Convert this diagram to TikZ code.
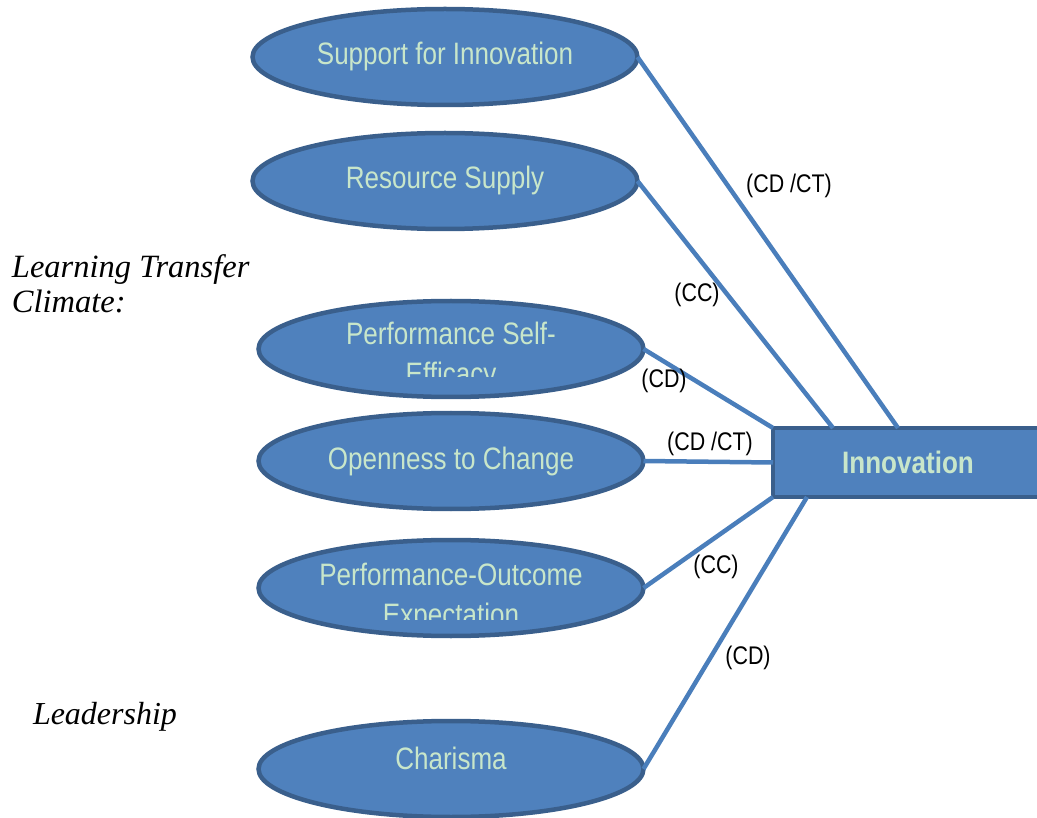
\documentclass[tikz,border=0pt]{standalone}
\usepackage{fontspec}
\setmainfont{Liberation Serif}
\newfontfamily\narrowfont[FakeStretch=0.84]{Liberation Sans}
\usetikzlibrary{shapes.geometric}
\definecolor{BLUE}{HTML}{4F81BD}
\definecolor{BLUE_E}{HTML}{3A5F8C}
\definecolor{LINK}{HTML}{4A7EBB}
\definecolor{PALE}{HTML}{C8E6CA}
\tikzset{
	every node/.style = {inner sep=0pt, outer sep=0pt},
	factor/.style = {ellipse, draw=BLUE_E, fill=BLUE, line width=4.5pt, minimum width=385pt, minimum height=96pt,
		text=PALE, font=\narrowfont\fontsize{31}{40}\selectfont, text height=22pt, text depth=6pt},
	factortext/.style = {anchor=base, text=PALE, font=\narrowfont\fontsize{31}{40}\selectfont},
	outcome/.style = {rectangle, draw=BLUE_E, fill=BLUE, line width=4.5pt, minimum width=270pt, minimum height=69pt,
		text=PALE, font=\narrowfont\bfseries\fontsize{31}{37}\selectfont},
	link/.style = {draw=LINK, line width=4.5pt},
	tag/.style = {font=\narrowfont\fontsize{25.5}{30}\selectfont},
	group/.style = {anchor=base west, font=\itshape\fontsize{32.5}{35}\selectfont}
}
\begin{document}
\begin{tikzpicture}[x=1pt, y=-1pt]
		\useasboundingbox (0,0) rectangle (1037,818);
		% group titles
		\node[group] (climate1) at (12,278) {Learning Transfer};
		\node[group] (climate2) at (12,313) {Climate:};
		\node[group, font=\itshape\fontsize{32}{35}\selectfont] (leader) at (33,724) {Leadership};
		% factors
		\node[factor] (support) at (445,57) {Support for Innovation};
		\node[factor] (resource) at (445,181) {Resource Supply};
		\node[factor] (selfeff) at (451,349) {};
		\node[factortext] (selfeff1) at (451,345) {Performance Self-};
		\node[factor] (openness) at (451,461) {Openness to Change};
		\node[factor] (expect) at (451,588) {};
		\node[factortext] (expect1) at (451,585) {Performance-Outcome};
		\node[factor, text depth=22pt] (charisma) at (451,769) {Charisma};
		% second lines, cut off
		\begin{scope}
		\clip (250,300) rectangle (660,377);
		\node[factortext] (selfeff2) at (451,385) {Efficacy};
		\end{scope}
		\begin{scope}
		\clip (250,540) rectangle (660,619);
		\node[factortext] (expect2) at (451,625) {Expectation};
		\end{scope}
		% outcome
		\node[outcome] (innov) at (908,462.5) {Innovation};
		% links
		\draw[link] (support.east) -- ([xshift=-10pt]innov.north);
		\draw[link] (resource.east) -- ([xshift=-75pt]innov.north);
		\draw[link] (selfeff.east) -- (innov.north west);
		\draw[link] (openness.east) -- (innov.west);
		\draw[link] (expect.east) -- (innov.south west);
		\draw[link] (charisma.east) -- ([xshift=-101pt]innov.south);
		% link labels
		\node[tag] (tagsupport) at (789,186) {(CD /CT)};
		\node[tag] (tagresource) at (697,295) {(CC)};
		\node[tag] (tagselfeff) at (664,381) {(CD)};
		\node[tag] (tagopenness) at (710,444) {(CD /CT)};
		\node[tag] (tagexpect) at (716,567) {(CC)};
		\node[tag] (tagcharisma) at (748,658) {(CD)};
	\end{tikzpicture}
\end{document}
